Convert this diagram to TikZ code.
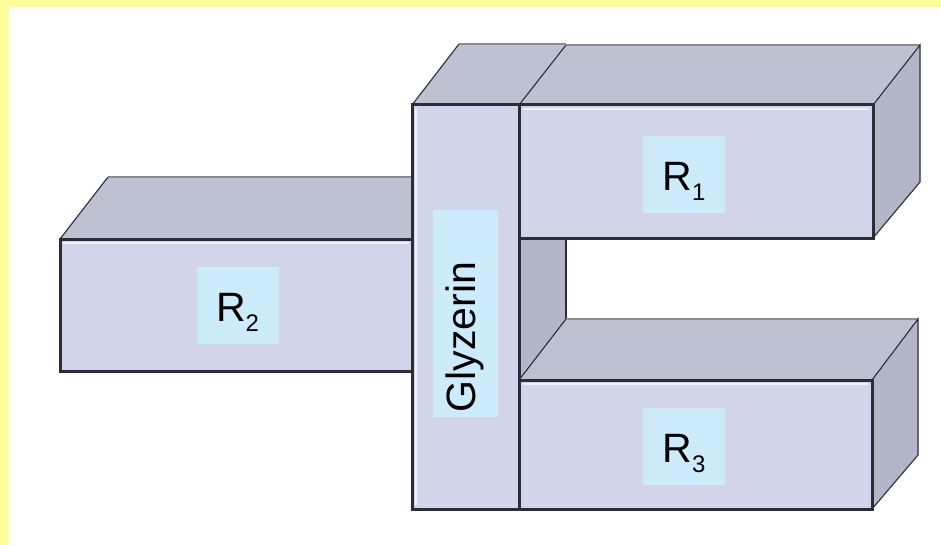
\documentclass[tikz,border=0pt]{standalone}
\usepackage{fontspec}
\setmainfont{Liberation Sans}
\definecolor{paper}{HTML}{FFFF99}
\definecolor{faceF}{HTML}{D2D5E9}
\definecolor{faceT}{HTML}{BEC1D2}
\definecolor{faceS}{HTML}{B3B6C8}
\definecolor{rim}{HTML}{2B2D36}
\definecolor{tagblue}{HTML}{CCECFC}
\newcommand{\lowidx}[1]{\kern0pt\raisebox{-10pt}{\fontsize{24}{26}\selectfont #1}}

\begin{document}
\begin{tikzpicture}[x=1pt,y=-1pt,
  front/.style={fill=faceF,draw=rim,line width=3pt},
  gloss/.style={draw=white,line width=1.2pt,opacity=0.7},
  thin/.style={draw=rim,line width=1.1pt},
  backedge/.style={draw=rim!55,line width=1.1pt},
  rtag/.style={fill=tagblue,inner sep=0pt,minimum width=82pt,minimum height=77pt,
    text height=43pt,text depth=10pt,font=\fontsize{41}{44}\selectfont},
  gtag/.style={fill=tagblue,inner sep=0pt,inner xsep=5pt,minimum width=207pt,minimum height=65pt,
    text width=197pt,align=left,text height=29pt,text depth=10pt,font=\fontsize{41}{44}\selectfont}]
\useasboundingbox (0,0) rectangle (941,545);
\fill[paper] (0,0) rectangle (941,545);
\fill[white] (9,7) rectangle (941,545);

% left slab
\fill[faceT] (60,239) -- (108,177) -- (412,177) -- (412,239) -- cycle;
\draw[thin] (60,239) -- (108,177);
\draw[backedge] (108,177) -- (412,177);
\draw[front] (60,239) rectangle (412,371);
\draw[gloss] (63,243) -- (409,243);

% column
\fill[faceS] (519,105) -- (566,44) -- (566,448) -- (519,509) -- cycle;
\fill[faceT] (412,105) -- (459,44) -- (566,44) -- (519,105) -- cycle;
\draw[thin] (412,105) -- (459,44);
\draw[backedge] (459,44) -- (566,44);
\draw[rim,line width=2pt] (566,237) -- (566,320);
\draw[front] (412,105) rectangle (519,509);
\draw[gloss] (416,109) -- (416,505);

% upper slab
\fill[faceT] (519,105) -- (566,45) -- (920,45) -- (873,105) -- cycle;
\fill[faceS] (873,105) -- (920,45) -- (920,182) -- (873,238) -- cycle;
\draw[thin] (519,105) -- (566,45);
\draw[backedge] (566,45) -- (920,45);
\draw[thin] (873,105) -- (920,45) -- (920,182) -- (873,238);
\draw[front] (519,105) rectangle (873,238);
\draw[gloss] (523,109) -- (869,109);

% lower slab
\fill[faceT] (519,380) -- (566,319) -- (918,319) -- (872,380) -- cycle;
\fill[faceS] (872,380) -- (918,319) -- (918,455) -- (872,509) -- cycle;
\draw[thin] (519,380) -- (566,319);
\draw[backedge] (566,319) -- (918,319);
\draw[thin] (872,380) -- (918,319) -- (918,455) -- (872,509);
\draw[front] (519,380) rectangle (872,509);
\draw[gloss] (523,384) -- (868,384);

% labels
\node[rtag] (r1) at (684,174.5) {R\lowidx{1}};
\node[rtag] (r2) at (237.5,305) {R\lowidx{2}};
\node[rtag] (r3) at (684,446) {R\lowidx{3}};
\node[gtag,rotate=90] (gly) at (465.5,313.5) {Glyzerin};
\end{tikzpicture}
\end{document}
